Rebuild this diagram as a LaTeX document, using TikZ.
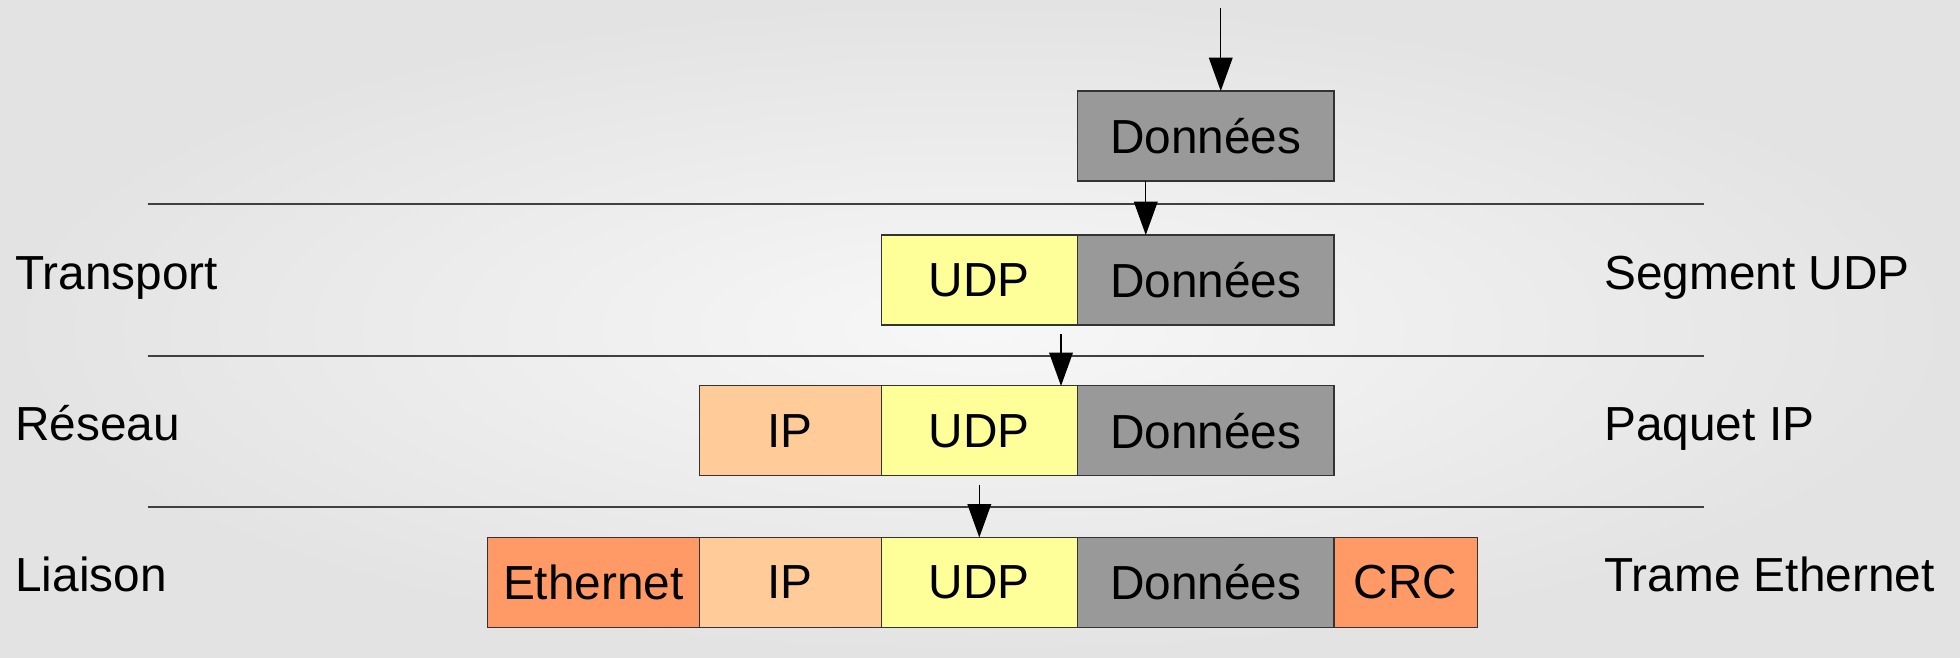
\documentclass[tikz,border=0pt]{standalone}
\usepackage{fontspec}
\setmainfont{Liberation Sans}
\usetikzlibrary{arrows.meta,positioning}
\definecolor{datagray}{HTML}{999999}
\definecolor{udpyellow}{HTML}{FFFF99}
\definecolor{ipbeige}{HTML}{FFCC99}
\definecolor{ethorange}{HTML}{FF9966}

\begin{document}
\begin{tikzpicture}[
    x=0.02cm, y=-0.02cm,
    >={Triangle[length=19pt,width=13.5pt]},
    field/.style={
        rectangle, draw=black!80, line width=0.6pt, outer sep=0pt,
        minimum height=1.8cm, inner sep=0pt,
        text centered, font=\fontsize{27.2}{32}\selectfont
    },
    data/.style={field, fill=datagray, minimum width=5.13cm},
    udp/.style={field, fill=udpyellow, minimum width=3.93cm},
    ip/.style={field, fill=ipbeige, minimum width=3.64cm},
    eth/.style={field, fill=ethorange, minimum width=4.23cm},
    crc/.style={field, fill=ethorange, minimum width=2.87cm},
    layer/.style={anchor=base west, inner sep=0pt, font=\fontsize{27.2}{32}\selectfont},
    sep/.style={line width=0.6pt, color=black!75},
    arr/.style={->, line width=0.7pt}
]
    % Background
    \shade[inner color=white!97!black, outer color=white!89!black]
        (0,0) rectangle (1960,657);

    % Layer separators
    \foreach \ly in {204,356,507}
        \draw[sep] (147.5,\ly) -- (1704,\ly);

    % Application data
    \node[data] at (1205.75,136) (d1) {Données};

    % Transport
    \node[data, below=1.08cm of d1] (d2) {Données};
    \node[udp, left=0pt of d2] (udp2) {UDP};

    % Reseau
    \node[data, below=1.22cm of d2] (d3) {Données};
    \node[udp, left=0pt of d3] (udp3) {UDP};
    \node[ip, left=0pt of udp3] (ip3) {IP};

    % Liaison
    \node[data, below=1.23cm of d3] (d4) {Données};
    \node[udp, left=0pt of d4] (udp4) {UDP};
    \node[ip, left=0pt of udp4] (ip4) {IP};
    \node[eth, left=0pt of ip4] (eth4) {Ethernet};
    \node[crc, right=0pt of d4] (crc4) {CRC};

    % Layer names
    \node[layer] at (15,289) (transport) {Transport};
    \node[layer] at (15,440) (reseau) {Réseau};
    \node[layer] at (15,591) (liaison) {Liaison};
    \node[layer] at (1604,289) (segment) {Segment UDP};
    \node[layer] at (1604,440) (paquet) {Paquet IP};
    \node[layer] at (1604,591) (trame) {Trame Ethernet};

    % Encapsulation arrows
    \coordinate (in) at ([xshift=0.3cm,yshift=1.66cm]d1.north);
    \coordinate (drop3) at (1061,334);
    \coordinate (drop4) at ([yshift=1.05cm]udp4.north);
    \draw[arr] (in) -- (in |- d1.north);
    \draw[arr] ([xshift=-1.2cm]d1.south) -- ([xshift=-1.2cm]d2.north);
    \draw[arr] (drop3) -- (drop3 |- d3.north);
    \draw[arr] (drop4) -- (udp4.north);

\end{tikzpicture}
\end{document}
